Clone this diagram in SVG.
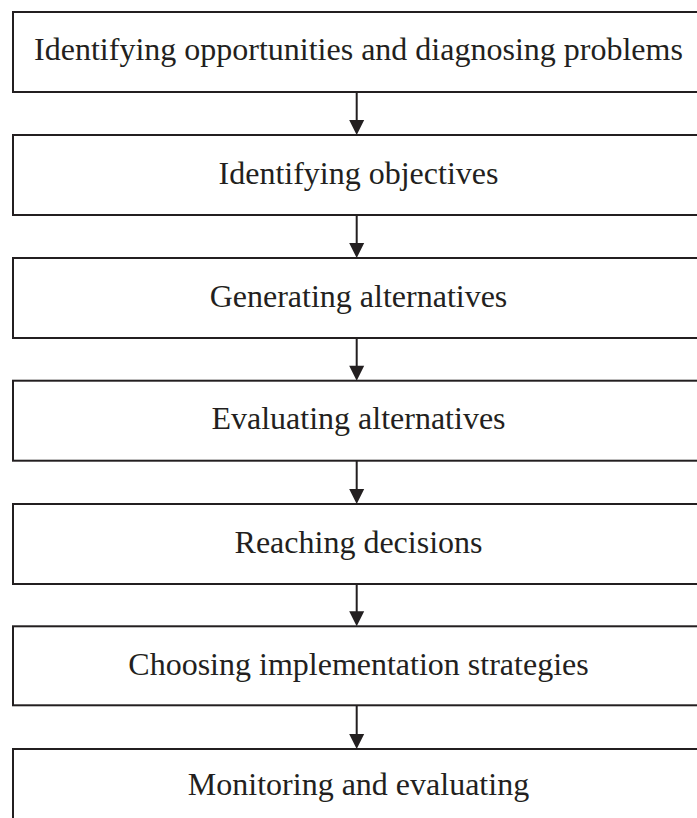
<svg xmlns="http://www.w3.org/2000/svg" width="697" height="818" viewBox="0 0 697 818">
<style>
.box{fill:#fff;stroke:#231f20;stroke-width:2}
.lbl{font-family:"Liberation Serif","Times New Roman",serif;font-size:32px;fill:#231f20;text-anchor:middle}
.conn{stroke:#231f20;stroke-width:2;fill:none}
.head{fill:#231f20}
</style>
<rect width="697" height="818" fill="#fff"/>
<g id="n1"><rect class="box" x="13" y="12" width="687" height="80"/><text class="lbl" x="358.5" y="60.3">Identifying opportunities and diagnosing problems</text></g>
<g id="n2"><rect class="box" x="13" y="135" width="687" height="80"/><text class="lbl" x="358.5" y="183.5">Identifying objectives</text></g>
<g id="n3"><rect class="box" x="13" y="258" width="687" height="80"/><text class="lbl" x="358.5" y="306.5">Generating alternatives</text></g>
<g id="n4"><rect class="box" x="13" y="380.7" width="687" height="80"/><text class="lbl" x="358.5" y="429.2">Evaluating alternatives</text></g>
<g id="n5"><rect class="box" x="13" y="504" width="687" height="80"/><text class="lbl" x="358.5" y="552.8">Reaching decisions</text></g>
<g id="n6"><rect class="box" x="13" y="626.3" width="687" height="79"/><text class="lbl" x="358.5" y="674.8">Choosing implementation strategies</text></g>
<g id="n7"><rect class="box" x="13" y="749" width="687" height="90"/><text class="lbl" x="358.5" y="795">Monitoring and evaluating</text></g>
<g id="connectors">
<line class="conn" x1="356.7" y1="92" x2="356.7" y2="122"/>
<polygon class="head" points="349.2,120 364.2,120 356.7,135"/>
<line class="conn" x1="356.7" y1="215" x2="356.7" y2="245"/>
<polygon class="head" points="349.2,243 364.2,243 356.7,258"/>
<line class="conn" x1="356.7" y1="338" x2="356.7" y2="368"/>
<polygon class="head" points="349.2,365.7 364.2,365.7 356.7,380.7"/>
<line class="conn" x1="356.7" y1="460.7" x2="356.7" y2="491"/>
<polygon class="head" points="349.2,489 364.2,489 356.7,504"/>
<line class="conn" x1="356.7" y1="584" x2="356.7" y2="613"/>
<polygon class="head" points="349.2,611.3 364.2,611.3 356.7,626.3"/>
<line class="conn" x1="356.7" y1="705.3" x2="356.7" y2="736"/>
<polygon class="head" points="349.2,734 364.2,734 356.7,749"/>
</g>
</svg>
